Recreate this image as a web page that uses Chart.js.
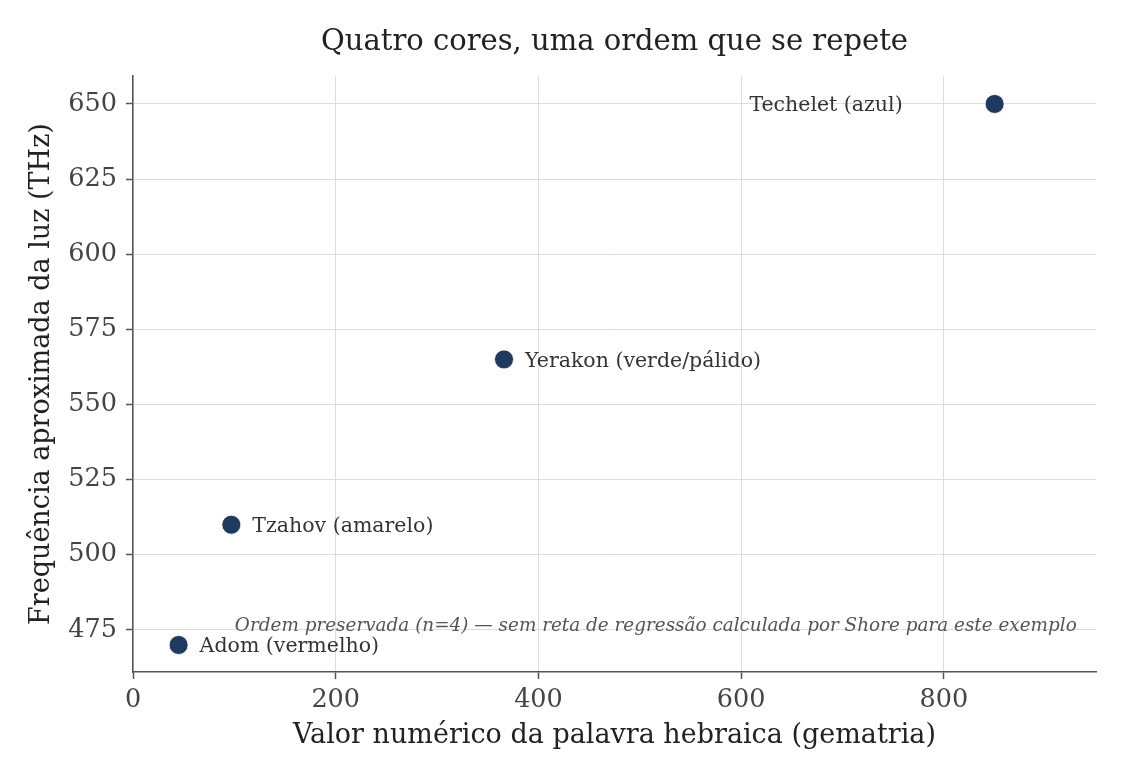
<!DOCTYPE html>
<html>
<head>
<meta charset="utf-8">
<script src="https://cdn.jsdelivr.net/npm/chart.js@4/dist/chart.umd.min.js"></script>
<style>
  html, body { margin: 0; padding: 0; background: #fff; }
  #wrap { width: 1125px; height: 780px; }
</style>
</head>
<body>
<div id="wrap"><canvas id="c" width="1125" height="780"></canvas></div>
<script>
const words = ["Adom (vermelho)", "Tzahov (amarelo)", "Yerakon (verde/pálido)", "Techelet (azul)"];
const gematria = [45, 97, 366, 850];
const frequencyTHz = [470, 510, 565, 650];
const xTicks = [0, 200, 400, 600, 800];
const yTicks = [475, 500, 525, 550, 575, 600, 625, 650];
const titleText = "Quatro cores, uma ordem que se repete";
const xTitle = "Valor numérico da palavra hebraica (gematria)";
const yTitle = "Frequência aproximada da luz (THz)";
const noteText = "Ordem preservada (n=4) — sem reta de regressão calculada por Shore para este exemplo";

const SERIF = "'DejaVu Serif', 'Liberation Serif', serif";

const points = gematria.map((g, i) => ({ x: g, y: frequencyTHz[i] }));

const overlay = {
  id: 'overlay',
  afterDatasetsDraw(chart) {
    const { ctx, scales, chartArea } = chart;
    const xs = scales.x, ys = scales.y;
    ctx.save();
    // point labels
    ctx.font = "20.5px " + SERIF;
    ctx.fillStyle = "#333333";
    ctx.textBaseline = "middle";
    points.forEach((p, i) => {
      const px = xs.getPixelForValue(p.x);
      const py = ys.getPixelForValue(p.y);
      const w = ctx.measureText(words[i]).width;
      if (px + 21 + w > chartArea.right) {
        ctx.textAlign = "right";
        ctx.fillText(words[i], px - 92, py + 2);
      } else {
        ctx.textAlign = "left";
        ctx.fillText(words[i], px + 21, py + 2);
      }
    });
    // note
    ctx.font = "italic 18.4px " + SERIF;
    ctx.fillStyle = "#555555";
    ctx.textAlign = "right";
    ctx.textBaseline = "middle";
    ctx.fillText(noteText, chartArea.left + (chartArea.right - chartArea.left) * 0.98, 626);
    // title
    ctx.font = "29px " + SERIF;
    ctx.fillStyle = "#222222";
    ctx.textAlign = "center";
    ctx.fillText(titleText, (chartArea.left + chartArea.right) / 2, 42);
    ctx.restore();
  }
};

new Chart(document.getElementById('c'), {
  type: 'scatter',
  data: {
    datasets: [{
      data: points,
      backgroundColor: '#1f3a5f',
      borderColor: '#ffffff',
      borderWidth: 0.8,
      pointRadius: 9.5,
      pointHoverRadius: 9.5
    }]
  },
  options: {
    responsive: false,
    animation: false,
    events: [],
    layout: { padding: { top: 76, right: 29, left: 0, bottom: 0 } },
    plugins: { legend: { display: false }, tooltip: { enabled: false }, title: { display: false } },
    scales: {
      x: {
        type: 'linear',
        min: 0, max: 950,
        afterFit(s) { s.height = 108; },
        afterBuildTicks(s) { s.ticks = xTicks.map(v => ({ value: v })); },
        grid: { color: '#dddddd', lineWidth: 1, tickColor: '#555555', tickLength: 7, tickWidth: 1.5 },
        border: { color: '#555555', width: 1.5 },
        ticks: { color: '#444444', font: { family: SERIF, size: 25.5 }, padding: 6, maxRotation: 0 },
        title: { display: true, text: xTitle, color: '#222222', font: { family: SERIF, size: 27, lineHeight: 1.2 }, padding: { top: 0, bottom: 28 } }
      },
      y: {
        type: 'linear',
        min: 461, max: 659.3,
        afterFit(s) { s.width = 133; },
        afterBuildTicks(s) { s.ticks = yTicks.map(v => ({ value: v })); },
        grid: { color: '#dddddd', lineWidth: 1, tickColor: '#555555', tickLength: 7, tickWidth: 1.5 },
        border: { color: '#555555', width: 1.5 },
        ticks: { color: '#444444', font: { family: SERIF, size: 25.5 }, padding: 9 },
        title: { display: true, text: yTitle, color: '#222222', font: { family: SERIF, size: 27, lineHeight: 1.2 }, padding: { top: 26, bottom: 0 } }
      }
    }
  },
  plugins: [overlay]
});
</script>
</body>
</html>
